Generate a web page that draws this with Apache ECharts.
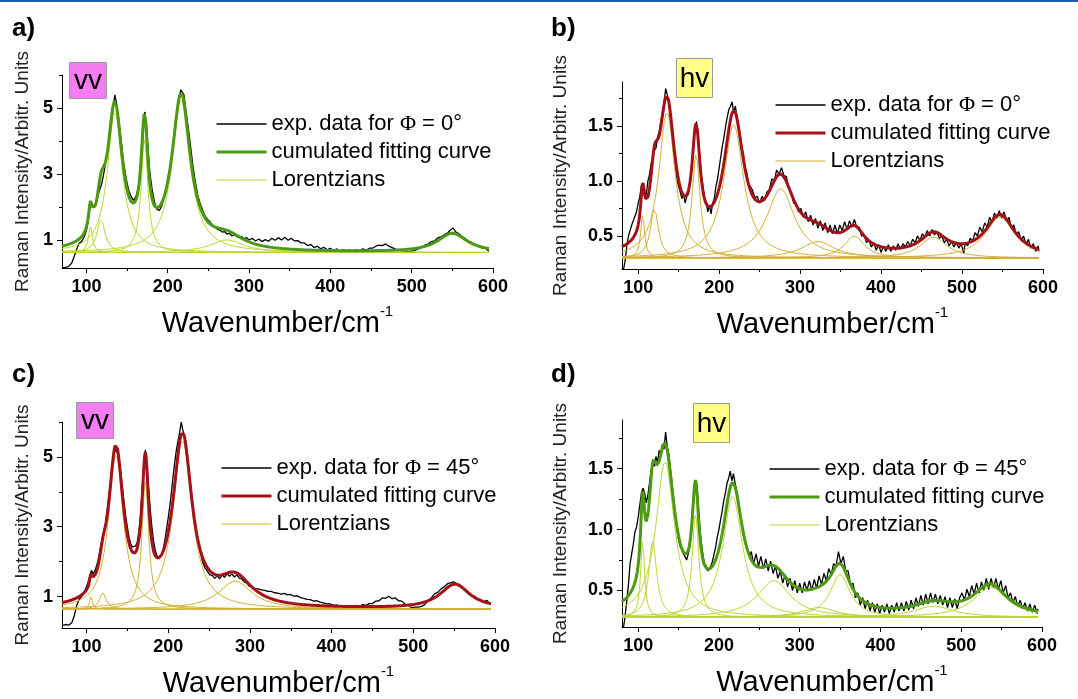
<!DOCTYPE html>
<html>
<head>
<meta charset="utf-8">
<script src="https://cdn.jsdelivr.net/npm/echarts@6/dist/echarts.min.js"></script>
<style>
  html, body { margin: 0; padding: 0; background: #fff; }
  #chart { width: 1078px; height: 699px; }
</style>
</head>
<body>
<div id="chart"></div>
<script>
// ---- axis ticks ----
const xTicks = [100, 200, 300, 400, 500, 600];
const xMinorTicks = [150, 250, 350, 450, 550];
const yTicksVV = [1, 3, 5];
const yMinorVV = [2, 4, 6];
const yTicksHV = [0.5, 1.0, 1.5];
const yMinorHV = [0.75, 1.25, 1.75];

// ---- measured spectra [wavenumber cm-1, intensity] ----
const expA = [[70,0.16],[74,0.17],[78,0.19],[82,0.3],[85,0.5],[88,0.72],[91,0.9],[94,0.95],[97,1.08],[100,1.28],[103,1.7],[105,2.18],[107,2.05],[110,1.98],[113,2.25],[116,2.5],[119,2.72],[122,3.1],[125,3.6],[128,3.95],[131,4.55],[133,5.05],[135,5.4],[137,5.15],[140,4.6],[143,3.95],[146,3.3],[149,2.85],[152,2.5],[155,2.32],[158,2.2],[161,2.32],[164,2.58],[167,3.2],[169,3.9],[171,4.75],[172,4.88],[174,4.45],[176,3.7],[178,3.05],[181,2.5],[184,2.12],[187,1.92],[190,1.9],[193,2.05],[196,2.35],[199,2.72],[202,3.1],[205,3.55],[208,4.1],[211,4.75],[214,5.3],[216,5.55],[218,5.5],[220,5.4],[222,5.0],[225,4.45],[228,3.85],[231,3.25],[234,2.75],[237,2.35],[240,2.1],[243,1.9],[246,1.72],[249,1.62],[252,1.55],[255,1.45],[258,1.4],[261,1.32],[264,1.3],[267,1.24],[270,1.25],[273,1.18],[276,1.2],[279,1.12],[282,1.15],[285,1.1],[288,1.07],[291,1.1],[294,1.04],[297,1.07],[300,1.0],[304,1.05],[308,0.97],[312,1.03],[316,0.95],[320,1.01],[324,0.96],[328,1.05],[332,0.99],[336,1.07],[340,1.0],[344,1.08],[348,0.99],[352,1.05],[356,0.97],[360,0.98],[364,0.91],[368,0.91],[372,0.83],[376,0.86],[380,0.77],[384,0.81],[388,0.73],[392,0.78],[396,0.7],[400,0.75],[404,0.67],[408,0.73],[412,0.64],[416,0.71],[420,0.63],[424,0.7],[428,0.65],[432,0.71],[436,0.67],[440,0.73],[444,0.69],[448,0.75],[452,0.75],[456,0.81],[460,0.84],[464,0.83],[468,0.88],[472,0.81],[476,0.77],[480,0.72],[484,0.7],[488,0.67],[492,0.66],[496,0.64],[500,0.66],[504,0.68],[508,0.73],[512,0.77],[516,0.84],[520,0.87],[524,0.95],[528,0.97],[532,1.06],[536,1.09],[540,1.16],[544,1.21],[548,1.31],[551,1.36],[554,1.25],[558,1.19],[562,1.1],[566,1.04],[570,0.96],[574,0.92],[578,0.84],[582,0.82],[586,0.76],[590,0.76],[594,0.68],[595,0.66]];

const expB = [[82,0.2],[84,0.28],[86,0.42],[88,0.5],[90,0.55],[92,0.6],[95,0.66],[98,0.72],[100,0.8],[102,0.86],[104,0.96],[106,0.98],[108,0.86],[110,0.88],[112,1.0],[114,1.06],[116,1.16],[118,1.22],[120,1.28],[122,1.3],[124,1.4],[126,1.45],[128,1.55],[130,1.62],[132,1.72],[134,1.84],[136,1.78],[138,1.72],[140,1.55],[142,1.42],[144,1.28],[146,1.14],[148,1.02],[150,0.95],[152,0.9],[154,0.84],[156,0.88],[158,0.8],[160,0.86],[162,0.88],[164,0.98],[166,1.1],[168,1.28],[170,1.48],[172,1.54],[174,1.42],[176,1.22],[178,1.05],[180,0.95],[182,0.84],[184,0.8],[186,0.72],[188,0.78],[190,0.7],[192,0.8],[194,0.84],[196,0.95],[198,1.02],[200,1.12],[202,1.22],[204,1.32],[206,1.4],[208,1.5],[210,1.58],[212,1.65],[214,1.68],[216,1.72],[218,1.62],[220,1.68],[222,1.58],[224,1.5],[226,1.42],[228,1.3],[230,1.24],[232,1.12],[234,1.08],[236,0.98],[238,0.97],[241,0.92],[244,0.85],[247,0.86],[250,0.8],[253,0.86],[256,0.82],[259,0.9],[262,0.92],[265,1.02],[268,1.0],[271,1.1],[274,1.06],[277,1.12],[280,1.05],[283,1.04],[286,0.93],[289,0.9],[292,0.8],[295,0.8],[298,0.72],[301,0.75],[304,0.67],[307,0.72],[310,0.63],[313,0.69],[316,0.6],[319,0.66],[322,0.57],[325,0.64],[328,0.55],[331,0.62],[334,0.53],[337,0.6],[340,0.52],[343,0.6],[346,0.52],[349,0.6],[352,0.55],[355,0.63],[358,0.56],[361,0.64],[364,0.58],[367,0.65],[370,0.58],[373,0.58],[376,0.5],[379,0.51],[382,0.44],[385,0.46],[388,0.4],[391,0.44],[394,0.37],[397,0.42],[400,0.35],[403,0.41],[406,0.36],[409,0.42],[412,0.36],[415,0.41],[418,0.37],[421,0.43],[424,0.38],[427,0.43],[430,0.4],[433,0.45],[436,0.41],[439,0.47],[442,0.44],[445,0.5],[448,0.46],[451,0.52],[454,0.49],[457,0.55],[460,0.5],[463,0.56],[466,0.51],[469,0.54],[472,0.48],[475,0.5],[478,0.44],[481,0.47],[484,0.41],[487,0.45],[490,0.4],[493,0.44],[496,0.39],[499,0.43],[502,0.34],[504,0.44],[507,0.41],[510,0.48],[513,0.45],[516,0.53],[519,0.5],[522,0.58],[525,0.54],[528,0.62],[531,0.58],[534,0.67],[537,0.62],[540,0.71],[543,0.66],[546,0.73],[549,0.66],[552,0.72],[555,0.63],[558,0.67],[561,0.57],[564,0.6],[567,0.51],[570,0.54],[573,0.46],[576,0.5],[579,0.42],[582,0.47],[585,0.39],[588,0.43],[591,0.36],[594,0.41],[595,0.36]];

const expC = [[70,0.17],[74,0.2],[78,0.18],[82,0.25],[85,0.45],[88,0.75],[91,0.92],[94,1.0],[97,1.12],[100,1.28],[103,1.5],[106,1.75],[108,1.65],[111,1.78],[114,2.02],[117,2.4],[120,2.75],[123,3.05],[126,3.6],[129,4.2],[132,4.8],[134,5.1],[136,5.25],[138,5.2],[140,4.9],[142,4.55],[144,4.1],[146,3.7],[148,3.3],[150,3.0],[152,2.7],[154,2.52],[156,2.42],[158,2.4],[160,2.45],[162,2.55],[164,2.85],[166,3.3],[168,4.05],[170,4.7],[172,5.2],[174,4.75],[176,4.1],[178,3.5],[180,3.0],[182,2.6],[184,2.35],[186,2.18],[188,2.1],[190,2.12],[192,2.2],[194,2.38],[196,2.62],[198,2.95],[200,3.25],[202,3.6],[204,4.0],[206,4.45],[208,4.85],[210,5.2],[212,5.45],[214,5.7],[216,6.0],[218,5.75],[220,5.6],[222,5.3],[224,4.95],[226,4.5],[228,4.05],[230,3.6],[232,3.2],[234,2.85],[236,2.6],[238,2.38],[240,2.2],[242,2.0],[245,1.82],[248,1.72],[251,1.62],[254,1.6],[257,1.52],[260,1.6],[263,1.51],[266,1.62],[269,1.55],[272,1.66],[275,1.58],[278,1.65],[281,1.56],[284,1.62],[287,1.53],[290,1.51],[293,1.42],[296,1.39],[299,1.3],[302,1.29],[306,1.22],[310,1.22],[314,1.19],[318,1.18],[322,1.15],[326,1.15],[330,1.11],[334,1.1],[338,1.07],[342,1.09],[346,1.05],[350,1.06],[354,1.01],[358,1.02],[362,0.97],[366,0.95],[370,0.92],[374,0.91],[378,0.87],[382,0.88],[386,0.84],[390,0.82],[394,0.79],[398,0.79],[402,0.75],[406,0.76],[410,0.72],[414,0.74],[418,0.7],[422,0.74],[426,0.72],[430,0.75],[434,0.72],[438,0.77],[442,0.75],[446,0.8],[450,0.8],[454,0.87],[458,0.88],[462,0.96],[466,0.95],[470,1.01],[474,0.94],[478,0.96],[482,0.88],[486,0.87],[490,0.78],[494,0.75],[498,0.68],[502,0.7],[506,0.7],[510,0.72],[514,0.77],[518,0.89],[522,0.96],[526,1.08],[530,1.12],[534,1.22],[538,1.28],[542,1.37],[546,1.4],[550,1.42],[554,1.34],[558,1.32],[562,1.2],[566,1.16],[570,1.04],[574,1.02],[578,0.92],[582,0.92],[586,0.84],[590,0.89],[594,0.8],[595,0.8]];

const expD = [[82,0.2],[84,0.3],[86,0.42],[88,0.55],[90,0.72],[92,0.8],[94,0.88],[96,0.98],[98,1.02],[100,1.1],[102,1.2],[104,1.3],[106,1.34],[108,1.3],[110,1.22],[112,1.28],[114,1.38],[116,1.48],[118,1.55],[120,1.52],[122,1.6],[124,1.55],[126,1.65],[128,1.62],[130,1.7],[132,1.66],[134,1.8],[136,1.68],[138,1.62],[140,1.5],[142,1.38],[144,1.25],[146,1.12],[148,1.0],[150,0.92],[152,0.86],[154,0.84],[156,0.8],[158,0.78],[160,0.75],[162,0.8],[164,0.86],[166,0.98],[168,1.15],[170,1.35],[172,1.4],[174,1.25],[176,1.05],[178,0.9],[180,0.8],[182,0.72],[184,0.7],[186,0.66],[188,0.68],[190,0.7],[192,0.74],[194,0.8],[196,0.86],[198,0.94],[200,1.0],[202,1.08],[204,1.15],[206,1.24],[208,1.3],[210,1.38],[212,1.42],[214,1.48],[216,1.4],[218,1.46],[220,1.38],[222,1.32],[224,1.25],[226,1.12],[228,1.05],[230,0.96],[232,0.9],[234,0.85],[236,0.82],[238,0.78],[240,0.82],[243,0.72],[246,0.8],[249,0.7],[252,0.78],[255,0.68],[258,0.76],[261,0.66],[264,0.74],[267,0.64],[270,0.7],[273,0.6],[276,0.66],[279,0.56],[282,0.63],[285,0.53],[288,0.6],[291,0.5],[294,0.58],[297,0.48],[300,0.56],[303,0.48],[306,0.57],[309,0.5],[312,0.58],[315,0.5],[318,0.59],[321,0.52],[324,0.62],[327,0.55],[330,0.64],[333,0.58],[336,0.68],[339,0.63],[342,0.72],[345,0.7],[348,0.82],[351,0.72],[354,0.78],[357,0.66],[360,0.66],[363,0.54],[366,0.56],[369,0.44],[372,0.48],[375,0.38],[378,0.44],[381,0.35],[384,0.42],[387,0.33],[390,0.4],[393,0.32],[396,0.39],[399,0.31],[402,0.38],[405,0.32],[408,0.39],[411,0.31],[414,0.38],[417,0.32],[420,0.4],[423,0.33],[426,0.4],[429,0.33],[432,0.41],[435,0.34],[438,0.42],[441,0.35],[444,0.44],[447,0.37],[450,0.46],[453,0.38],[456,0.47],[459,0.39],[462,0.48],[465,0.4],[468,0.47],[471,0.39],[474,0.46],[477,0.38],[480,0.45],[483,0.36],[486,0.44],[489,0.36],[492,0.43],[495,0.35],[498,0.44],[501,0.48],[504,0.42],[507,0.51],[510,0.45],[513,0.54],[516,0.47],[519,0.56],[522,0.48],[525,0.57],[528,0.5],[531,0.6],[534,0.51],[537,0.6],[540,0.52],[543,0.6],[546,0.51],[549,0.58],[552,0.48],[555,0.54],[558,0.44],[561,0.48],[564,0.4],[567,0.45],[570,0.37],[573,0.42],[576,0.35],[579,0.4],[582,0.33],[585,0.39],[588,0.32],[591,0.38],[594,0.31],[595,0.35]];

// ---- Lorentzian fit parameters: baseline, centre (cm-1), height above baseline, FWHM (cm-1) ----
const baseA = 0.62;
const centersA = [105, 118, 135, 171.5, 216.5, 273, 550];
const heightsA = [0.78, 1.0, 4.27, 3.46, 4.65, 0.38, 0.57];
const fwhmA = [6, 12, 22, 10, 27, 50, 44];

const baseB = 0.3;
const centersB = [105.5, 120, 135.5, 171.5, 218, 276, 322, 367, 465, 547];
const heightsB = [0.39, 0.45, 1.33, 0.94, 1.21, 0.63, 0.15, 0.2, 0.19, 0.375];
const fwhmB = [6, 12, 24, 12, 30, 42, 50, 30, 40, 44];

const baseC = 0.64;
const centersC = [105.5, 120, 136, 172, 217.5, 282, 551];
const heightsC = [0.37, 0.46, 4.45, 3.65, 4.84, 0.8, 0.7];
const fwhmC = [4, 10, 22, 10, 28, 50, 44];

const baseD = 0.28;
const centersD = [105.5, 118, 133.5, 171, 217, 268, 324, 350, 466, 536];
const heightsD = [0.63, 0.62, 1.28, 0.84, 0.99, 0.3, 0.08, 0.35, 0.09, 0.25];
const fwhmD = [6, 12, 28, 10, 30, 50, 50, 30, 60, 50];

// ---- colours ----
const GREEN = '#4c9a12';
const LIME = '#bcd631';
const RED = '#a3121a';
const GOLD = '#d3b131';
const FONT = 'Liberation Sans, Arial, sans-serif';

function lorentz(x, c, h, fwhm) {
  const d = (x - c) / (fwhm / 2);
  return h / (1 + d * d);
}

const panels = [
  { label: 'a)', labelPos: [12, 16], tag: 'vv', tagFill: '#f27ef2', tagBox: [69, 62, 37, 36],
    grid: { left: 62, top: 75, width: 431, height: 193 }, xMin: 70, yMin: 0.15, yMax: 6,
    yTicks: yTicksVV, yMinor: yMinorVV, fmt: v => String(v), yNameGap: 30,
    exp: expA, base: baseA, centers: centersA, heights: heightsA, fwhm: fwhmA,
    fitColor: GREEN, lorColor: LIME, expName: 'exp. data for Φ = 0°', legendPos: [210, 105] },
  { label: 'b)', labelPos: [551, 16], tag: 'hv', tagFill: '#ffff86', tagBox: [676, 58, 36, 39],
    grid: { left: 622, top: 82, width: 421, height: 187 }, xMin: 80, yMin: 0.2, yMax: 1.9,
    yTicks: yTicksHV, yMinor: yMinorHV, fmt: v => v.toFixed(1), yNameGap: 52,
    exp: expB, base: baseB, centers: centersB, heights: heightsB, fwhm: fwhmB,
    fitColor: RED, lorColor: GOLD, expName: 'exp. data for Φ = 0°', legendPos: [769, 86] },
  { label: 'c)', labelPos: [12, 362], tag: 'vv', tagFill: '#f27ef2', tagBox: [76, 402, 37, 36],
    grid: { left: 62, top: 422, width: 433, height: 206 }, xMin: 70, yMin: 0.1, yMax: 6,
    yTicks: yTicksVV, yMinor: yMinorVV, fmt: v => String(v), yNameGap: 30,
    exp: expC, base: baseC, centers: centersC, heights: heightsC, fwhm: fwhmC,
    fitColor: RED, lorColor: GOLD, expName: 'exp. data for Φ = 45°', legendPos: [215, 449] },
  { label: 'd)', labelPos: [551, 362], tag: 'hv', tagFill: '#ffff86', tagBox: [693, 403, 36, 39],
    grid: { left: 622, top: 420, width: 420, height: 207 }, xMin: 80, yMin: 0.2, yMax: 1.9,
    yTicks: yTicksHV, yMinor: yMinorHV, fmt: v => v.toFixed(1), yNameGap: 52,
    exp: expD, base: baseD, centers: centersD, heights: heightsD, fwhm: fwhmD,
    fitColor: GREEN, lorColor: LIME, expName: 'exp. data for Φ = 45°', legendPos: [763, 450] }
];

const option = {
  animation: false,
  backgroundColor: '#fff',
  textStyle: { fontFamily: FONT },
  grid: [], xAxis: [], yAxis: [], series: [], legend: [],
  graphic: [
    { type: 'rect', left: 0, top: 0, shape: { width: 1078, height: 2 }, style: { fill: '#1f5ea8' } }
  ]
};

panels.forEach((p, i) => {
  option.grid.push(Object.assign({ containLabel: false }, p.grid));
  const axisText = { fontSize: 18, fontWeight: 'bold', color: '#000', fontFamily: FONT };

  // main wavenumber axis
  option.xAxis.push({
    gridIndex: i, type: 'value', position: 'bottom', min: p.xMin, max: 600,
    axisLine: { show: true, onZero: false, lineStyle: { color: '#000', width: 1 } },
    axisTick: { show: true, customValues: xTicks, length: 5, lineStyle: { color: '#000' } },
    axisLabel: Object.assign({ customValues: xTicks, margin: 10 }, axisText),
    splitLine: { show: false },
    name: '{n|Wavenumber/cm}{s|-1}', nameLocation: 'middle', nameGap: 36,
    nameTextStyle: {
      rich: {
        n: { fontSize: 29, color: '#000', fontFamily: FONT, lineHeight: 34, verticalAlign: 'bottom' },
        s: { fontSize: 15, color: '#000', fontFamily: FONT, lineHeight: 34, verticalAlign: 'top' }
      }
    }
  });
  // minor ticks on the wavenumber axis
  option.xAxis.push({
    gridIndex: i, type: 'value', position: 'bottom', min: p.xMin, max: 600,
    axisLine: { show: false, onZero: false },
    axisTick: { show: true, customValues: xMinorTicks, length: 3, lineStyle: { color: '#000' } },
    axisLabel: { show: false }, splitLine: { show: false }
  });
  // intensity axis
  option.yAxis.push({
    gridIndex: i, type: 'value', position: 'left', min: p.yMin, max: p.yMax,
    axisLine: { show: true, onZero: false, lineStyle: { color: '#000', width: 1 } },
    axisTick: { show: true, customValues: p.yTicks, length: 5, lineStyle: { color: '#000' } },
    axisLabel: Object.assign({ customValues: p.yTicks, margin: 9, formatter: p.fmt }, axisText),
    splitLine: { show: false },
    name: 'Raman Intensity/Arbitr. Units', nameLocation: 'middle', nameRotate: 90, nameGap: p.yNameGap,
    nameTextStyle: { fontSize: 19, color: '#222', fontFamily: FONT }
  });
  option.yAxis.push({
    gridIndex: i, type: 'value', position: 'left', min: p.yMin, max: p.yMax,
    axisLine: { show: false, onZero: false },
    axisTick: { show: true, customValues: p.yMinor, length: 3, lineStyle: { color: '#000' } },
    axisLabel: { show: false }, splitLine: { show: false }
  });

  const xi = 2 * i, yi = 2 * i;
  const common = { type: 'line', xAxisIndex: xi, yAxisIndex: yi, symbol: 'none', showSymbol: false, silent: true, clip: true };

  // measured spectrum
  option.series.push(Object.assign({}, common, {
    name: p.expName, data: p.exp, z: 2, lineStyle: { color: '#000', width: 1.3 }
  }));

  // individual Lorentzians and their sum, sampled on the wavenumber grid
  const grid = [];
  for (let x = p.xMin; x <= 595; x += 1) grid.push(x);
  p.centers.forEach((c, k) => {
    option.series.push(Object.assign({}, common, {
      name: 'Lorentzians', z: 3, lineStyle: { color: p.lorColor, width: 1 },
      data: grid.map(x => [x, p.base + lorentz(x, c, p.heights[k], p.fwhm[k])])
    }));
  });
  option.series.push(Object.assign({}, common, {
    name: 'cumulated fitting curve', z: 4, lineStyle: { color: p.fitColor, width: 3 },
    data: grid.map(x => [x, p.base + p.centers.reduce((s, c, k) => s + lorentz(x, c, p.heights[k], p.fwhm[k]), 0)])
  }));

  option.legend.push({
    left: p.legendPos[0], top: p.legendPos[1], orient: 'vertical',
    itemWidth: 50, itemHeight: 14, itemGap: 0, selectedMode: false,
    itemStyle: { opacity: 0 },
    textStyle: {
      fontSize: 22, lineHeight: 28, color: '#000', fontFamily: FONT,
      rich: { p: { fontSize: 22, lineHeight: 28, color: '#000', fontFamily: 'Liberation Serif, serif' } }
    },
    formatter: name => name.replace('Φ', '{p|Φ}'),
    data: [
      { name: p.expName, lineStyle: { color: '#000', width: 1.5 } },
      { name: 'cumulated fitting curve', lineStyle: { color: p.fitColor, width: 3 } },
      { name: 'Lorentzians', lineStyle: { color: p.lorColor, width: 1.2 } }
    ]
  });

  // panel letter
  option.graphic.push({
    type: 'text', left: p.labelPos[0], top: p.labelPos[1],
    style: { text: p.label, fontSize: 26, fontWeight: 'bold', fill: '#000', fontFamily: FONT }
  });
  // polarisation tag
  const b = p.tagBox;
  option.graphic.push({
    type: 'group', left: b[0], top: b[1],
    children: [
      { type: 'rect', shape: { x: 0, y: 0, width: b[2], height: b[3] },
        style: { fill: p.tagFill, stroke: '#9a9a9a', lineWidth: 1 } },
      { type: 'text', x: b[2] / 2, y: b[3] / 2 + 1,
        style: { text: p.tag, fontSize: 28, fill: '#000', fontFamily: FONT, align: 'center', verticalAlign: 'middle' } }
    ]
  });
});

const chart = echarts.init(document.getElementById('chart'), null, { renderer: 'canvas' });
chart.setOption(option);
</script>
</body>
</html>
